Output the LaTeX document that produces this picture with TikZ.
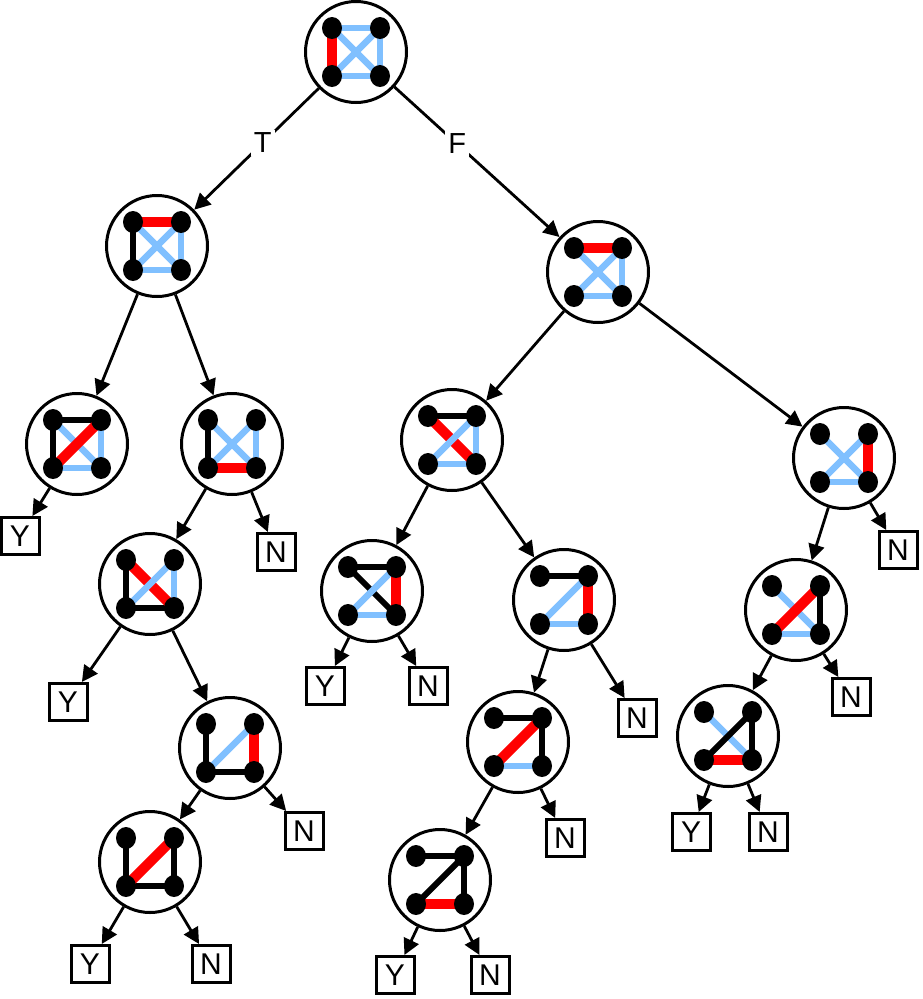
\documentclass[tikz,border=0pt]{standalone}
\usepackage{fontspec}
\setmainfont{Liberation Sans}
\usetikzlibrary{arrows.meta}
\tikzset{
  R/.style={draw={rgb,255:red,255;green,0;blue,0},line width=10pt},
  K/.style={draw=black,line width=6pt},
  B/.style={draw={rgb,255:red,128;green,192;blue,255},line width=6.5pt},
  X/.style={draw=none},
  gcirc/.style={circle,draw,line width=3pt,minimum size=101pt,inner sep=0pt},
  leaf/.style={draw,line width=3pt,minimum width=38pt,minimum height=37pt,inner sep=0pt,font=\fontsize{30}{30}\selectfont},
  arr/.style={line width=2.8pt,-{Triangle[length=16pt,width=16pt]}},
  lab/.style={fill=white,inner sep=3pt,font=\fontsize{29}{29}\selectfont}
}
% name, center, top, bottom, left, right, TL-BR, TR-BL
\newcommand\gstate[8]{%
  \node[gcirc] (#1) at (#2) {};
  \begin{scope}[shift={(#2)}]
    \path[#3] (-24,-24) -- (24,-24);
    \path[#4] (-24,24) -- (24,24);
    \path[#5] (-24,-24) -- (-24,24);
    \path[#6] (24,-24) -- (24,24);
    \path[#7] (-24,-24) -- (24,24);
    \path[#8] (24,-24) -- (-24,24);
    \foreach \p in {(-24,-24),(24,-24),(-24,24),(24,24)} \fill \p ellipse (10pt and 11pt);
  \end{scope}}
\begin{document}
\begin{tikzpicture}[x=1pt,y=-1pt]
\useasboundingbox (0,0) rectangle (922,999);
\gstate{r}{356,52}{B}{B}{R}{B}{B}{B}
\gstate{a}{157,246}{R}{B}{K}{B}{B}{B}
\gstate{a1}{77,444}{K}{B}{K}{B}{B}{R}
\gstate{a2}{232,444}{X}{R}{K}{B}{B}{B}
\gstate{a21}{150,584}{X}{K}{K}{B}{R}{B}
\gstate{a22}{230,748}{X}{K}{K}{R}{X}{B}
\gstate{a221}{150,862}{X}{K}{K}{K}{X}{R}
\gstate{b}{598,272}{R}{B}{X}{B}{B}{B}
\gstate{b1}{452,440}{K}{B}{X}{B}{R}{B}
\gstate{b11}{372,591}{K}{B}{X}{R}{K}{B}
\gstate{b12}{564,600}{K}{B}{X}{R}{X}{B}
\gstate{b121}{518,742}{K}{B}{X}{K}{X}{R}
\gstate{b1211}{440,880}{K}{R}{X}{K}{X}{K}
\gstate{b2}{844,458}{X}{B}{X}{R}{B}{B}
\gstate{b21}{796,610}{X}{B}{X}{K}{B}{R}
\gstate{b22}{728,736}{X}{R}{X}{K}{B}{K}
\node[leaf] (y1) at (20,536) {Y};
\node[leaf] (n1) at (276,552) {N};
\node[leaf] (y2) at (68,702) {Y};
\node[leaf] (n2) at (304,831) {N};
\node[leaf] (y3) at (90,964) {Y};
\node[leaf] (n3) at (211,964) {N};
\node[leaf] (n4) at (898,550) {N};
\node[leaf] (y4) at (325,686) {Y};
\node[leaf] (n5) at (428,686) {N};
\node[leaf] (n6) at (637,718) {N};
\node[leaf] (n7) at (565,838) {N};
\node[leaf] (y5) at (395,975) {Y};
\node[leaf] (n8) at (490,975) {N};
\node[leaf] (n9) at (851,697) {N};
\node[leaf] (y6) at (691,832) {Y};
\node[leaf] (n10) at (768,832) {N};
\draw[arr] (r) -- node[lab,pos=0.45]{T} (a);
\draw[arr] (r) -- node[lab,pos=0.38]{F} (b);
\draw[arr] (a) -- (a1);
\draw[arr] (a) -- (a2);
\draw[arr] (a1) -- (y1);
\draw[arr] (a2) -- (a21);
\draw[arr] (a2) -- (n1);
\draw[arr] (a21) -- (y2);
\draw[arr] (a21) -- (a22);
\draw[arr] (a22) -- (a221);
\draw[arr] (a22) -- (n2);
\draw[arr] (a221) -- (y3);
\draw[arr] (a221) -- (n3);
\draw[arr] (b) -- (b1);
\draw[arr] (b) -- (b2);
\draw[arr] (b1) -- (b11);
\draw[arr] (b1) -- (b12);
\draw[arr] (b11) -- (y4);
\draw[arr] (b11) -- (n5);
\draw[arr] (b12) -- (b121);
\draw[arr] (b12) -- (n6);
\draw[arr] (b121) -- (b1211);
\draw[arr] (b121) -- (n7);
\draw[arr] (b1211) -- (y5);
\draw[arr] (b1211) -- (n8);
\draw[arr] (b2) -- (b21);
\draw[arr] (b2) -- (n4);
\draw[arr] (b21) -- (b22);
\draw[arr] (b21) -- (n9);
\draw[arr] (b22) -- (y6);
\draw[arr] (b22) -- (n10);
\end{tikzpicture}
\end{document}
